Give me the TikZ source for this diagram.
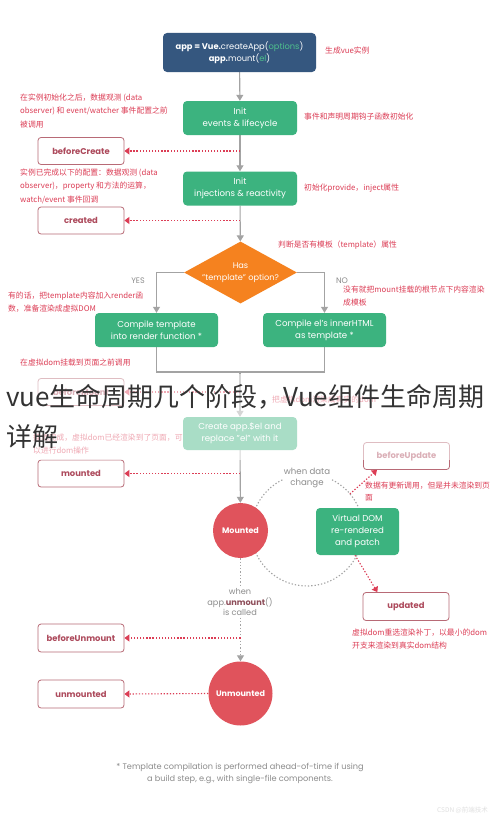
\documentclass[tikz,border=0pt]{standalone}
\usepackage{fontspec}
\setmainfont{Poppins}
\newfontfamily\cjk{Noto Sans CJK SC}
\usetikzlibrary{shapes.geometric,arrows.meta,backgrounds,calc}
\definecolor{vblue}{HTML}{35577F}
\definecolor{vgreen}{HTML}{3CB37F}
\definecolor{vorange}{HTML}{F5821F}
\definecolor{vred}{HTML}{E0535C}
\definecolor{annot}{HTML}{DC3D55}
\definecolor{hookline}{HTML}{B86A76}
\definecolor{hooktxt}{HTML}{AD4A5C}
\definecolor{flow}{HTML}{A3A3A3}
\definecolor{gtext}{HTML}{8C8C8C}
\definecolor{vteal}{HTML}{4FC08D}
\definecolor{unm}{HTML}{8E4E5A}
\definecolor{titlec}{HTML}{333333}
\begin{document}
\begin{tikzpicture}[x=1pt,y=-1pt,
  font=\fontsize{8.6}{11.8}\selectfont,
  greenbox/.style={rectangle, rounded corners=4pt, fill=vgreen, text=white, align=center, inner sep=0pt, minimum width=114pt, minimum height=34pt},
  hookbox/.style={rectangle, rounded corners=3pt, draw=hookline, line width=0.8pt, fill=white, text=hooktxt, font=\bfseries\fontsize{8.4}{9}\selectfont, minimum width=86pt, minimum height=27pt, inner sep=0pt},
  annot/.style={text=annot, font=\cjk\fontsize{7.8}{13.6}\selectfont, align=left, inner sep=0pt},
  flowline/.style={draw=flow, line width=1.1pt},
  flowarrow/.style={flowline, -{Triangle[width=7pt,length=6pt]}},
  hookarrow/.style={draw=annot, line width=1.1pt, dash pattern=on 1.3pt off 1.8pt, -{Triangle[width=7pt,length=5pt]}},
  loopline/.style={draw=flow, line width=1.1pt, dash pattern=on 1.3pt off 2pt},
  state/.style={circle, fill=vred, text=white, font=\bfseries\fontsize{8}{9}\selectfont, inner sep=0pt},
  graytext/.style={text=gtext, align=center, inner sep=1pt, fill=white},
]
\useasboundingbox (0,0) rectangle (490,816);
\begin{pgfonlayer}{background}
\fill[white] (0,0) rectangle (490,816);
\end{pgfonlayer}

% main flow nodes
\node[rectangle, rounded corners=4pt, fill=vblue, text=white, align=center, minimum width=153pt, minimum height=39pt, inner sep=0pt, font=\fontsize{8.3}{11.7}\selectfont] (app) at (239.5,52.5) {\textbf{app = Vue.}createApp(\textcolor{vteal}{options})\\\textbf{app.}mount(\textcolor{vteal}{el})};
\node[greenbox] (init1) at (240,118) {Init\\events \& lifecycle};
\node[hookbox] (bc) at (81,151) {beforeCreate};
\node[greenbox] (init2) at (240,188.5) {Init\\injections \& reactivity};
\node[hookbox] (created) at (81,220.5) {created};
\node[diamond, aspect=1.82, fill=vorange, text=white, align=center, inner sep=0pt, minimum width=111pt, minimum height=61pt, font=\fontsize{8.2}{12}\selectfont] (dia) at (240.5,272.5) {Has\\"template" option?};
\node[greenbox, minimum width=123pt] (comp1) at (156.5,330) {Compile template\\into render function *};
\node[greenbox, minimum width=123pt] (comp2) at (324.5,330) {Compile el's innerHTML\\as template *};
\coordinate (merge) at (240,372);
\node[hookbox] (bm) at (81,392) {beforeMount};
\node[greenbox, minimum height=33pt] (create) at (240,433.5) {Create app.\$el and\\replace "el" with it};
\node[hookbox] (mh) at (81,473.5) {mounted};
\node[state, minimum size=55pt] (mc) at (240.5,530.5) {Mounted};
\node[greenbox, minimum width=83pt, minimum height=47pt] (vdom) at (357.5,531.5) {Virtual DOM\\re-rendered\\and patch};
\node[hookbox] (bu) at (406.5,456) {beforeUpdate};
\node[hookbox, minimum height=28pt] (up) at (406,606.5) {updated};
\node[hookbox, minimum height=28pt] (bum) at (81,638) {beforeUnmount};
\node[state, minimum size=64pt] (uc) at (240.5,693.5) {Unmounted};
\node[hookbox, minimum height=28pt] (um) at (81,694) {unmounted};

% gray labels
\node[graytext, font=\fontsize{8.6}{11.5}\selectfont] (wdc) at (307,478) {when data\\change};
\node[graytext, font=\fontsize{8.2}{10.5}\selectfont] (wun) at (240,602) {when\\app.\textcolor{unm}{\textbf{unmount}}()\\is called};
\node[text=gtext, font=\fontsize{8}{9}\selectfont, inner sep=0pt] (yes) at (138,281) {YES};
\node[text=gtext, font=\fontsize{8}{9}\selectfont, inner sep=0pt] (no) at (342,281) {NO};

% annotations
\node[annot, anchor=west] (a0) at (325,51) {生成vue实例};
\node[annot, anchor=north west] (a1) at (20,93.5) {在实例初始化之后，数据观测 (data\\observer) 和 event/watcher 事件配置之前\\被调用};
\node[annot, anchor=west] (a2) at (304,117) {事件和声明周期钩子函数初始化};
\node[annot, anchor=north west] (a3) at (20,168.5) {实例已完成以下的配置：数据观测 (data\\observer)，property 和方法的运算，\\watch/event 事件回调};
\node[annot, anchor=west] (a4) at (304,188) {初始化provide，inject属性};
\node[annot, anchor=west] (a5) at (278,245) {判断是否有模板（template）属性};
\node[annot, anchor=north west, font=\cjk\fontsize{7.8}{13}\selectfont] (a6) at (8,291.5) {有的话，把template内容加入render函\\数，准备渲染成虚拟DOM};
\node[annot, anchor=north west] (a7) at (343,285.5) {没有就把mount挂载的根节点下内容渲染\\成模板};
\node[annot, anchor=west] (a8) at (20,363) {在虚拟dom挂载到页面之前调用};
\node[annot, anchor=west] (a9) at (272,400) {把虚拟dom渲染成真实的dom};
\node[annot, anchor=north west, font=\cjk\fontsize{7.8}{13}\selectfont] (a10) at (33,433.5) {挂载完成，虚拟dom已经渲染到了页面，可\\以进行dom操作};
\node[annot, anchor=north west, font=\cjk\fontsize{7.8}{12.5}\selectfont] (a11) at (365,481.5) {数据有更新调用，但是并未渲染到页\\面};
\node[annot, anchor=north west, font=\cjk\fontsize{7.8}{13}\selectfont] (a12) at (352,628.5) {虚拟dom重选渲染补丁，以最小的dom\\开支来渲染到真实dom结构};

% footnote and watermark
\node[text=gtext, align=center, font=\fontsize{8.2}{12}\selectfont] (foot) at (240,773) {* Template compilation is performed ahead-of-time if using\\a build step, e.g., with single-file components.};
\node[text=black!12, font=\cjk\fontsize{6.5}{7}\selectfont, anchor=east, inner sep=0pt] (wm) at (488,810) {CSDN @前端技术};

% connectors
\begin{pgfonlayer}{background}
\draw[flowarrow] (app) -- (init1);
\draw[flowarrow] (init1) -- (init2);
\draw[flowarrow] (init2) -- (dia);
\draw[flowarrow] (dia.west) -| (comp1.north);
\draw[flowarrow] (dia.east) -| (comp2.north);
\draw[flowline] (comp1.south) |- (merge) -| (comp2.south);
\draw[flowarrow] (merge) -- (create.north);
\draw[flowarrow] (create) -- (mc);
\draw[loopline, -{Triangle[width=7pt,length=6pt]}] (mc) -- (uc);
\draw[hookarrow] (init1.south |- bc) -- (bc.east);
\draw[hookarrow] (init2.south |- created) -- (created.east);
\draw[hookarrow] (create.north |- bm) -- (bm.east);
\draw[hookarrow] (create.south |- mh) -- (mh.east);
\draw[hookarrow] (mc.south |- bum) -- (bum.east);
\draw[hookarrow] (uc.west) -- (um.east);
% update loop
\draw[loopline] (253.1,515.5) arc[start angle=-165, end angle=-10, radius=56];
\draw[loopline] (362.1,539.7) arc[start angle=10, end angle=165, radius=56];
\coordinate (bp) at (349.9,494);
\draw[hookarrow] (bp) -- ($(bu.south west)!0.16!(bu.south east)$);
\draw[hookarrow] ($(vdom.south west)!0.47!(vdom.south east)$) -- ($(up.north west)!0.17!(up.north east)$);
\end{pgfonlayer}

% faded band under the title
\fill[white, opacity=0.56] (0,374) rectangle (490,460);
\node[anchor=base west, inner sep=0pt, text=titlec, font=\cjk\fontsize{26}{30}\selectfont] (t1) at (6,406) {vue生命周期几个阶段，Vue组件生命周期};
\node[anchor=base west, inner sep=0pt, text=titlec, font=\cjk\fontsize{26}{30}\selectfont] (t2) at (6,446) {详解};
\end{tikzpicture}
\end{document}
